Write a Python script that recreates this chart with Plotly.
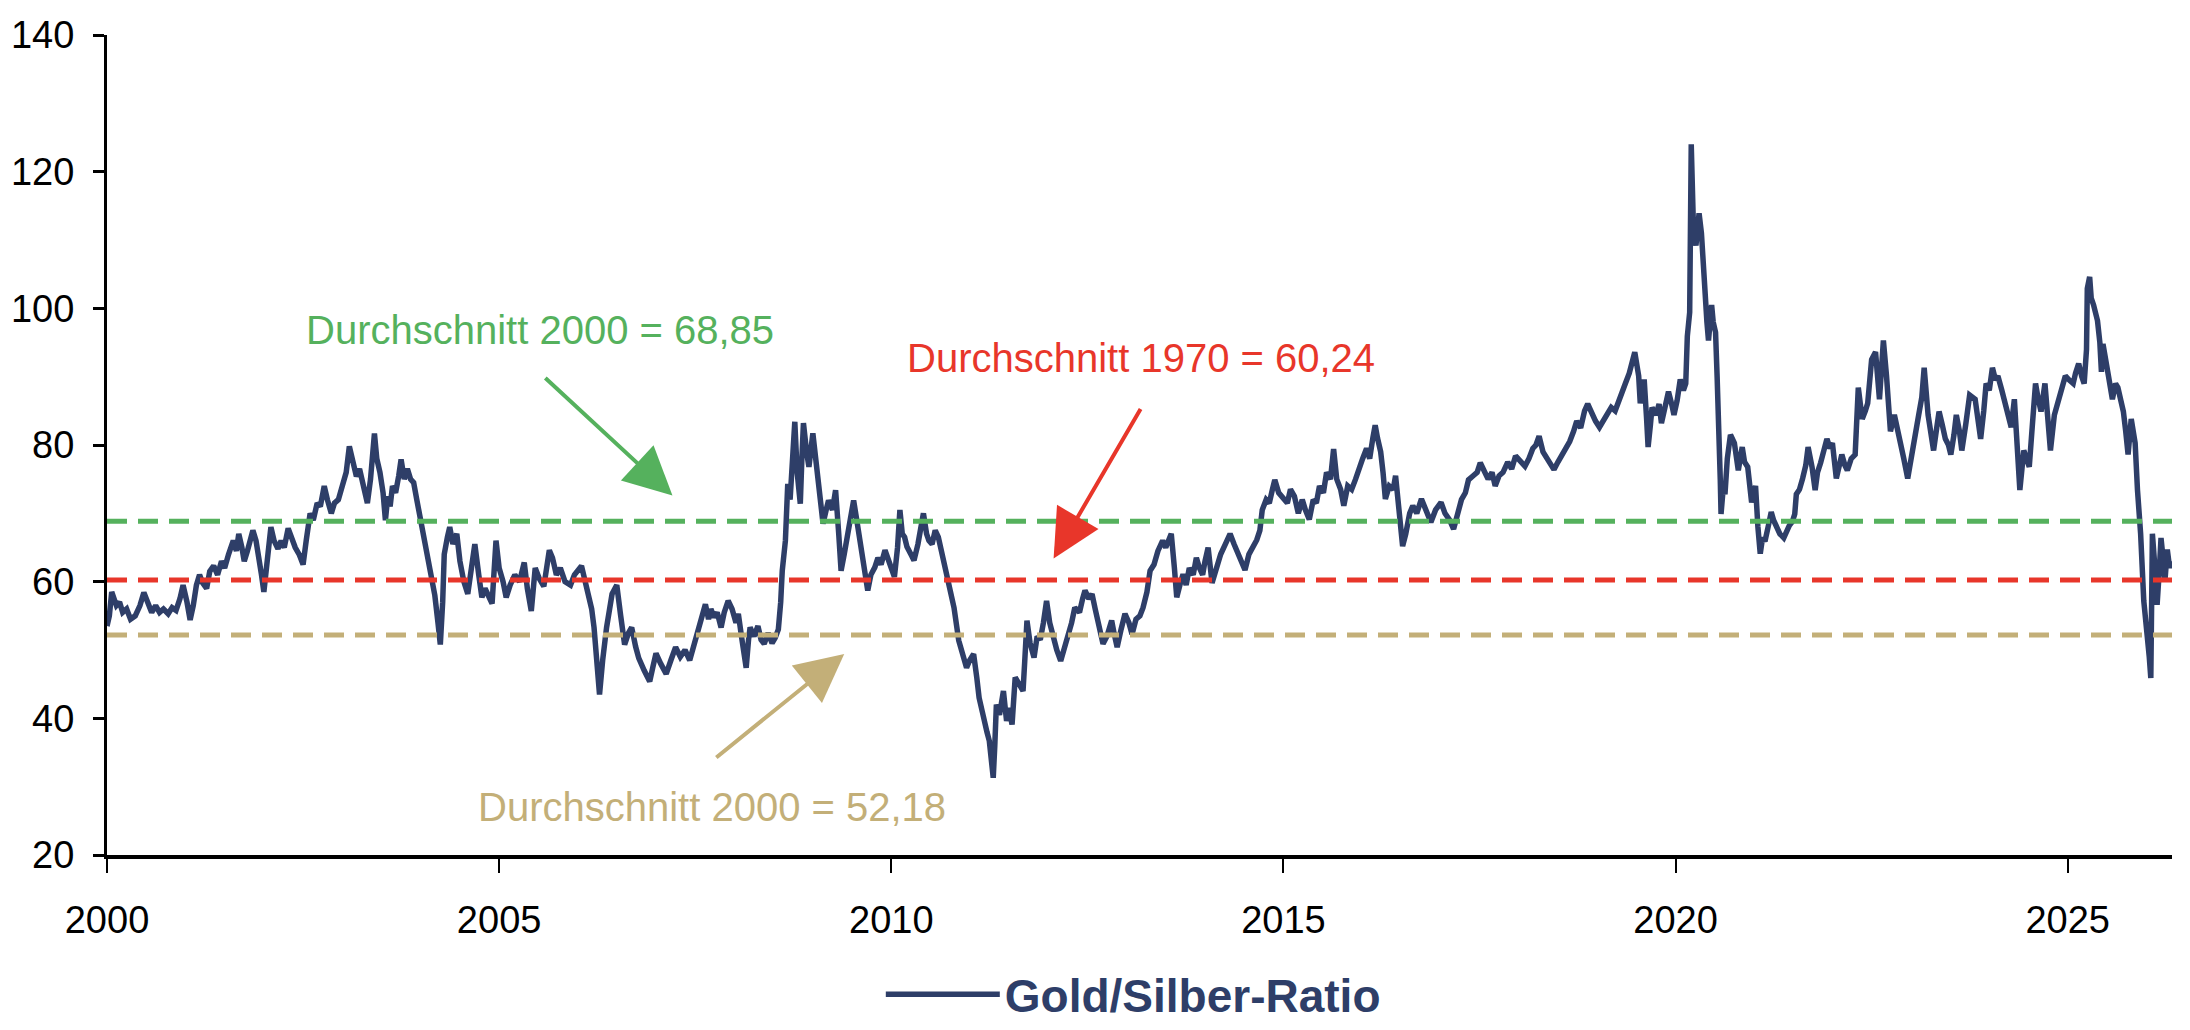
import plotly.graph_objects as go

# Gold/Silber-Ratio (decimal years, ratio)
years = [
    2000.00, 2000.03, 2000.06, 2000.09, 2000.12, 2000.16, 2000.20, 2000.25, 2000.30, 2000.36, 2000.42, 2000.47, 2000.52, 2000.57, 2000.62, 2000.67, 2000.72, 2000.78, 2000.83, 2000.88, 2000.93, 2000.97,
    2001.02, 2001.06, 2001.10, 2001.14, 2001.18, 2001.22, 2001.27, 2001.31, 2001.36, 2001.41, 2001.46, 2001.50, 2001.55, 2001.61, 2001.65, 2001.68, 2001.72, 2001.75, 2001.79, 2001.83, 2001.86, 2001.90, 2001.94, 2001.97,
    2002.00, 2002.03, 2002.06, 2002.09, 2002.13, 2002.18, 2002.22, 2002.26, 2002.31, 2002.35, 2002.40, 2002.45, 2002.50, 2002.54, 2002.59, 2002.63, 2002.68, 2002.72, 2002.77, 2002.81, 2002.86, 2002.90, 2002.95,
    2003.00, 2003.05, 2003.09, 2003.13, 2003.18, 2003.22, 2003.27, 2003.32, 2003.36, 2003.39, 2003.41, 2003.44, 2003.48, 2003.52, 2003.55, 2003.58, 2003.61, 2003.64, 2003.68, 2003.72, 2003.75, 2003.79, 2003.83, 2003.87, 2003.91, 2003.95,
    2004.00, 2004.05, 2004.09, 2004.14, 2004.18, 2004.22, 2004.25, 2004.28, 2004.30, 2004.34, 2004.37, 2004.41, 2004.46, 2004.50, 2004.55, 2004.60, 2004.65, 2004.69, 2004.74, 2004.78, 2004.82, 2004.87, 2004.91, 2004.96,
    2005.00, 2005.05, 2005.09, 2005.14, 2005.20, 2005.26, 2005.32, 2005.36, 2005.41, 2005.46, 2005.51, 2005.57, 2005.64, 2005.68, 2005.73, 2005.78, 2005.84, 2005.91, 2005.96,
    2006.05, 2006.10, 2006.14, 2006.18, 2006.21, 2006.25, 2006.28, 2006.32, 2006.37, 2006.44, 2006.50, 2006.55, 2006.60, 2006.65, 2006.69, 2006.74, 2006.78, 2006.85, 2006.92, 2006.96,
    2007.00, 2007.06, 2007.13, 2007.19, 2007.25, 2007.31, 2007.37, 2007.43, 2007.48, 2007.52, 2007.56, 2007.60, 2007.63, 2007.67, 2007.70, 2007.74, 2007.78, 2007.83, 2007.87, 2007.92, 2007.97,
    2008.02, 2008.05, 2008.09, 2008.13, 2008.15, 2008.18, 2008.20, 2008.25, 2008.30, 2008.34, 2008.38, 2008.43, 2008.48, 2008.52, 2008.56, 2008.59, 2008.61, 2008.65, 2008.68, 2008.71, 2008.74, 2008.77, 2008.80, 2008.84, 2008.86, 2008.88, 2008.92, 2008.95,
    2009.00, 2009.04, 2009.07, 2009.10, 2009.13, 2009.17, 2009.20, 2009.25, 2009.29, 2009.33, 2009.36, 2009.40, 2009.43, 2009.48, 2009.52, 2009.56, 2009.59, 2009.63, 2009.67, 2009.70, 2009.74, 2009.79, 2009.83, 2009.87, 2009.92, 2009.96,
    2010.00, 2010.04, 2010.08, 2010.11, 2010.14, 2010.17, 2010.20, 2010.25, 2010.29, 2010.34, 2010.38, 2010.41, 2010.45, 2010.48, 2010.52, 2010.56, 2010.60, 2010.63, 2010.67, 2010.70, 2010.75, 2010.80, 2010.86, 2010.91, 2010.96,
    2011.00, 2011.05, 2011.09, 2011.12, 2011.16, 2011.18, 2011.22, 2011.25, 2011.28, 2011.30, 2011.32, 2011.34, 2011.38, 2011.43, 2011.47, 2011.50, 2011.54, 2011.58, 2011.63, 2011.68, 2011.70, 2011.73, 2011.77, 2011.82, 2011.86, 2011.90, 2011.94, 2011.98,
    2012.02, 2012.07, 2012.11, 2012.16, 2012.20, 2012.25, 2012.30, 2012.34, 2012.40, 2012.44, 2012.47, 2012.52, 2012.56, 2012.60, 2012.63, 2012.67, 2012.70, 2012.75, 2012.81, 2012.84, 2012.88, 2012.93, 2012.98,
    2013.03, 2013.07, 2013.12, 2013.17, 2013.21, 2013.26, 2013.30, 2013.35, 2013.40, 2013.46, 2013.50, 2013.57, 2013.61, 2013.64, 2013.68, 2013.72, 2013.76, 2013.80, 2013.85, 2013.89, 2013.93, 2013.97,
    2014.00, 2014.04, 2014.09, 2014.14, 2014.20, 2014.26, 2014.32, 2014.37, 2014.42, 2014.47, 2014.51, 2014.56, 2014.61, 2014.66, 2014.70, 2014.73, 2014.78, 2014.82, 2014.86, 2014.89, 2014.94,
    2015.00, 2015.05, 2015.09, 2015.14, 2015.19, 2015.24, 2015.28, 2015.33, 2015.38, 2015.42, 2015.46, 2015.51, 2015.55, 2015.60, 2015.64, 2015.68, 2015.73, 2015.77, 2015.82, 2015.87, 2015.92, 2015.96,
    2016.01, 2016.06, 2016.10, 2016.14, 2016.17, 2016.20, 2016.24, 2016.27, 2016.30, 2016.35, 2016.40, 2016.43, 2016.47, 2016.50, 2016.52, 2016.56, 2016.61, 2016.65, 2016.70, 2016.76, 2016.82, 2016.88, 2016.94,
    2017.01, 2017.06, 2017.12, 2017.17, 2017.22, 2017.27, 2017.32, 2017.36, 2017.42, 2017.47, 2017.51, 2017.56, 2017.61, 2017.66, 2017.70, 2017.75, 2017.80, 2017.86, 2017.91, 2017.96,
    2018.02, 2018.08, 2018.13, 2018.18, 2018.22, 2018.26, 2018.31, 2018.36, 2018.40, 2018.45, 2018.50, 2018.55, 2018.61, 2018.65, 2018.70, 2018.74, 2018.79, 2018.84, 2018.88, 2018.93, 2018.98,
    2019.03, 2019.08, 2019.12, 2019.18, 2019.23, 2019.27, 2019.32, 2019.36, 2019.41, 2019.45, 2019.48, 2019.51, 2019.53, 2019.55, 2019.58, 2019.60, 2019.63, 2019.65, 2019.68, 2019.70, 2019.75, 2019.79, 2019.82, 2019.86, 2019.91, 2019.95, 2019.98,
    2020.02, 2020.06, 2020.10, 2020.13, 2020.15, 2020.18, 2020.20, 2020.21, 2020.23, 2020.26, 2020.30, 2020.33, 2020.37, 2020.40, 2020.42, 2020.46, 2020.48, 2020.51, 2020.53, 2020.55, 2020.57, 2020.58, 2020.61, 2020.63, 2020.66, 2020.70, 2020.75, 2020.80, 2020.85, 2020.88, 2020.92, 2020.97,
    2021.00, 2021.02, 2021.05, 2021.08, 2021.11, 2021.14, 2021.18, 2021.22, 2021.25, 2021.28, 2021.33, 2021.38, 2021.42, 2021.45, 2021.49, 2021.52, 2021.54, 2021.58, 2021.62, 2021.66, 2021.69, 2021.74, 2021.78, 2021.81, 2021.85, 2021.89, 2021.93, 2021.97,
    2022.00, 2022.05, 2022.09, 2022.12, 2022.16, 2022.19, 2022.24, 2022.29, 2022.33, 2022.38, 2022.42, 2022.45, 2022.50, 2022.55, 2022.60, 2022.65, 2022.69, 2022.72, 2022.74, 2022.79, 2022.83, 2022.86, 2022.91, 2022.96,
    2023.00, 2023.03, 2023.07, 2023.10, 2023.14, 2023.17, 2023.22, 2023.26, 2023.29, 2023.33, 2023.36, 2023.40, 2023.44, 2023.48, 2023.51, 2023.55, 2023.58, 2023.62, 2023.65, 2023.70, 2023.75, 2023.82, 2023.86, 2023.89, 2023.93, 2023.96,
    2024.00, 2024.04, 2024.08, 2024.11, 2024.16, 2024.20, 2024.24, 2024.28, 2024.32, 2024.35, 2024.39, 2024.44, 2024.47, 2024.51, 2024.55, 2024.59, 2024.62, 2024.66, 2024.71, 2024.74, 2024.78, 2024.83, 2024.87, 2024.90, 2024.94, 2024.97,
    2025.02, 2025.07, 2025.10, 2025.14, 2025.18, 2025.21, 2025.24, 2025.25, 2025.28, 2025.30, 2025.33, 2025.38, 2025.41, 2025.43, 2025.45, 2025.49, 2025.52, 2025.57, 2025.61, 2025.64, 2025.68, 2025.71, 2025.74, 2025.77, 2025.81, 2025.86, 2025.89, 2025.93, 2025.97,
    2026.01, 2026.04, 2026.06, 2026.08, 2026.11, 2026.14, 2026.17, 2026.19, 2026.22, 2026.24, 2026.27, 2026.30, 2026.32,
]
ratio = [
    53.5, 55.0, 58.5, 57.5, 56.5, 57.0, 55.5, 56.0, 54.5, 55.0, 56.5, 58.4, 57.0, 55.5, 56.5, 55.5, 56.0, 55.3, 56.2, 55.8, 57.5, 59.5,
    57.0, 54.4, 56.5, 59.5, 61.0, 59.8, 59.0, 61.5, 62.3, 61.0, 63.0, 62.0, 64.0, 66.0, 64.5, 67.0, 65.0, 63.0, 64.5, 66.0, 67.5, 66.0, 63.5, 61.0,
    58.5, 62.0, 65.5, 68.0, 66.0, 64.8, 66.0, 65.0, 67.8, 66.5, 65.0, 64.0, 62.5, 66.0, 70.0, 69.0, 71.5, 71.0, 74.0, 72.0, 70.0, 71.5, 72.0,
    74.0, 76.0, 79.8, 77.5, 75.4, 76.5, 73.5, 71.5, 75.0, 78.5, 81.7, 78.0, 76.0, 73.0, 69.0, 72.5, 71.0, 74.0, 73.0, 75.5, 77.9, 75.0, 76.5, 75.0, 74.5, 72.0,
    69.0, 66.0, 64.0, 61.0, 58.0, 54.0, 50.8, 57.0, 64.0, 66.5, 68.0, 65.5, 67.0, 63.0, 60.0, 58.2, 62.0, 65.5, 61.0, 57.7, 59.0, 58.0, 56.8, 66.0,
    62.0, 60.0, 57.7, 59.5, 61.0, 60.0, 62.8, 59.0, 55.7, 62.0, 60.5, 59.3, 64.6, 63.5, 61.0, 62.0, 60.0, 59.5, 61.0,
    62.3, 60.0, 57.7, 56.0, 53.3, 48.0, 43.5, 48.5, 53.3, 58.2, 59.5, 55.0, 50.8, 52.5, 53.3, 50.5, 48.8, 47.0, 45.4, 47.5,
    49.5, 48.0, 46.5, 48.5, 50.4, 49.0, 50.0, 48.5, 50.5, 51.8, 53.5, 55.0, 56.7, 54.5, 56.0, 54.8, 55.5, 53.3, 55.5, 57.2, 56.0,
    54.0, 55.3, 52.0, 49.0, 47.4, 51.5, 53.3, 52.0, 53.5, 51.5, 50.9, 52.5, 51.0, 51.8, 53.0, 57.0, 61.6, 66.0, 74.3, 72.0, 78.0, 83.4, 76.0, 71.4, 78.0, 83.2, 79.0, 76.8,
    81.7, 78.0, 74.8, 71.0, 68.5, 70.5, 71.9, 70.5, 73.4, 67.0, 61.6, 64.0, 66.0, 69.0, 71.9, 69.0, 67.0, 64.0, 61.5, 58.7, 61.0, 62.1, 63.5, 62.5, 64.6, 63.0,
    62.0, 60.7, 65.0, 70.5, 67.0, 66.5, 65.1, 64.0, 63.1, 65.5, 68.0, 70.0, 67.0, 66.0, 65.5, 67.5, 66.5, 65.0, 63.0, 61.1, 58.5, 56.2, 51.4, 49.0, 47.4,
    48.5, 49.4, 46.0, 43.0, 41.0, 39.6, 38.0, 36.7, 34.0, 31.3, 36.0, 42.0, 40.5, 44.0, 39.6, 41.5, 39.1, 46.0, 45.0, 44.0, 48.0, 54.3, 51.0, 48.9, 52.0, 51.5, 54.0, 57.2,
    54.0, 51.3, 50.0, 48.4, 50.0, 51.3, 54.0, 56.2, 55.5, 57.5, 58.7, 57.5, 58.2, 56.0, 54.3, 52.5, 50.9, 52.0, 54.3, 52.5, 50.4, 53.0, 55.3,
    54.0, 52.3, 54.5, 55.0, 56.2, 58.5, 61.6, 62.5, 64.5, 66.0, 65.0, 67.0, 62.0, 57.7, 59.5, 61.1, 59.5, 62.0, 61.0, 63.5, 62.0, 61.0,
    63.0, 65.0, 59.8, 62.0, 64.0, 65.5, 67.0, 65.5, 64.0, 62.5, 61.7, 64.0, 65.0, 66.1, 67.5, 70.5, 72.0, 71.5, 73.5, 74.9, 73.0,
    72.0, 71.5, 73.5, 72.5, 70.0, 72.0, 70.5, 69.1, 72.0, 71.5, 74.0, 73.0, 76.0, 75.0, 79.4, 75.0, 73.5, 71.1, 74.0, 73.5, 75.0, 76.5,
    78.0, 79.5, 78.0, 81.0, 82.9, 81.0, 79.0, 76.0, 72.1, 74.0, 73.5, 75.5, 71.5, 67.5, 65.2, 67.0, 70.0, 71.1, 70.0, 72.1, 70.5, 68.7, 70.5,
    71.6, 70.0, 69.0, 67.7, 70.0, 72.0, 73.0, 74.9, 75.5, 76.0, 77.4, 76.0, 75.0, 76.0, 74.0, 75.5, 76.0, 77.5, 76.5, 78.4,
    77.5, 76.9, 78.0, 79.5, 80.0, 81.3, 79.0, 78.0, 77.5, 76.4, 77.5, 78.5, 79.9, 80.5, 82.0, 83.5, 82.5, 85.0, 86.0, 84.5, 83.5,
    82.6, 83.5, 84.4, 85.5, 85.0, 86.1, 87.5, 89.0, 90.5, 92.0, 93.6, 91.5, 90.1, 86.1, 88.0, 89.6, 84.0, 79.7, 83.0, 85.5, 84.4, 86.0, 83.2, 85.5, 87.8, 86.0, 84.4,
    86.5, 89.6, 88.0, 89.0, 95.9, 99.4, 124.0, 115.0, 111.0, 109.2, 113.9, 111.0, 101.1, 98.0, 95.3, 100.5, 98.0, 96.5, 90.0, 84.4, 75.0, 69.9, 74.0, 72.8, 78.0, 81.5, 80.3, 76.3, 79.7, 77.5, 76.8, 71.6,
    73.0, 74.0, 68.0, 64.1, 66.5, 65.9, 68.0, 70.2, 69.0, 68.2, 67.0, 66.4, 67.5, 68.2, 68.8, 69.9, 72.8, 73.5, 75.1, 77.0, 79.7, 76.8, 73.4, 76.0, 77.4, 79.0, 80.9, 79.5,
    80.3, 75.1, 77.5, 78.6, 77.0, 76.3, 78.0, 78.6, 88.4, 83.8, 85.0, 86.1, 92.5, 93.6, 86.7, 95.3, 90.1, 86.0, 82.0, 84.4, 82.5, 80.9, 78.0, 75.1,
    77.5, 79.7, 82.0, 84.4, 87.0, 91.3, 84.4, 82.0, 79.2, 82.5, 84.9, 83.0, 80.9, 80.0, 78.6, 81.5, 84.4, 82.0, 79.2, 83.0, 87.3, 86.7, 84.0, 80.9, 85.0, 89.0,
    88.0, 91.3, 89.5, 90.1, 88.0, 86.1, 84.5, 82.6, 86.7, 80.0, 73.4, 79.2, 78.0, 76.8, 83.0, 89.0, 87.0, 84.9, 89.0, 85.0, 79.2, 84.4, 86.0, 86.7, 88.5, 90.1,
    89.5, 89.0, 90.5, 91.9, 90.0, 89.0, 94.0, 102.9, 104.6, 101.5, 100.5, 98.2, 95.0, 90.7, 94.8, 92.5, 90.1, 86.7, 89.0, 88.4, 86.5, 84.9, 82.0, 78.6, 83.8, 80.3, 73.4, 67.0, 57.2,
    53.1, 49.0, 45.9, 67.0, 62.4, 56.6, 62.0, 66.4, 63.0, 60.1, 64.7, 62.0, 63.0,
]
assert len(years) == len(ratio)

# Averages drawn as dashed lines
avg_labels = ["Durchschnitt 2000 = 68,85", "Durchschnitt 1970 = 60,24", "Durchschnitt 2000 = 52,18"]
avg_values = [68.85, 60.24, 52.18]
avg_colors = ["#55B15D", "#E8362A", "#C3AF78"]

NAVY = "#2E3E68"
FONT = "Arial, 'Liberation Sans', sans-serif"

fig = go.Figure()

fig.add_trace(
    go.Scatter(
        x=years,
        y=ratio,
        mode="lines",
        name="Gold/Silber-Ratio",
        line=dict(color=NAVY, width=5.5),
    )
)

for value, color in zip(avg_values, avg_colors):
    fig.add_hline(y=value, line=dict(color=color, width=5, dash="20px,11px"))

# Labels (text position) and arrows (tail -> tip)
label_pos = [(2005.52, 96.8), (2013.19, 92.7), (2007.71, 27.0)]
arrow_tail = [(2005.57, 90.0), (2013.19, 85.5), (2007.75, 34.1)]
arrow_tip = [(2007.21, 72.6), (2012.07, 63.4), (2009.40, 49.4)]

for text, color, (lx, ly), (tx, ty), (hx, hy) in zip(
    avg_labels, avg_colors, label_pos, arrow_tail, arrow_tip
):
    fig.add_annotation(
        x=lx, y=ly, text=text, showarrow=False,
        font=dict(size=40, color=color, family=FONT),
    )
    fig.add_annotation(
        x=hx, y=hy, ax=tx, ay=ty, axref="x", ayref="y",
        text="", showarrow=True,
        arrowhead=2, arrowsize=2.4, arrowwidth=4, arrowcolor=color,
        standoff=0, startstandoff=0,
    )

fig.update_xaxes(
    range=[2000, 2026.33],
    tick0=2000,
    dtick=5,
    ticks="outside",
    ticklen=14,
    tickwidth=2,
    tickcolor="black",
    showline=True,
    linecolor="black",
    linewidth=4,
    showgrid=False,
    zeroline=False,
    automargin=False,
    tickfont=dict(size=38, color="black", family=FONT),
    ticklabelstandoff=14,
)
fig.update_yaxes(
    range=[20, 140],
    tick0=20,
    dtick=20,
    ticks="outside",
    ticklen=11,
    tickwidth=3,
    tickcolor="black",
    showline=True,
    linecolor="black",
    linewidth=3,
    showgrid=False,
    zeroline=False,
    automargin=False,
    tickfont=dict(size=38, color="black", family=FONT),
    ticklabelstandoff=11,
)

# page body keeps an 8px margin, so the figure is 8px smaller than the window
fig.update_layout(
    width=2182,
    height=1022,
    margin=dict(l=99, r=18, t=27, b=175, autoexpand=False),
    paper_bgcolor="white",
    plot_bgcolor="white",
    font=dict(family=FONT),
    showlegend=True,
    legend=dict(
        orientation="h",
        x=0.497,
        xanchor="center",
        y=-0.17,
        yanchor="middle",
        font=dict(size=46, color=NAVY, family=FONT, weight="bold"),
        itemwidth=114,
    ),
)

fig.write_html("out.html")
